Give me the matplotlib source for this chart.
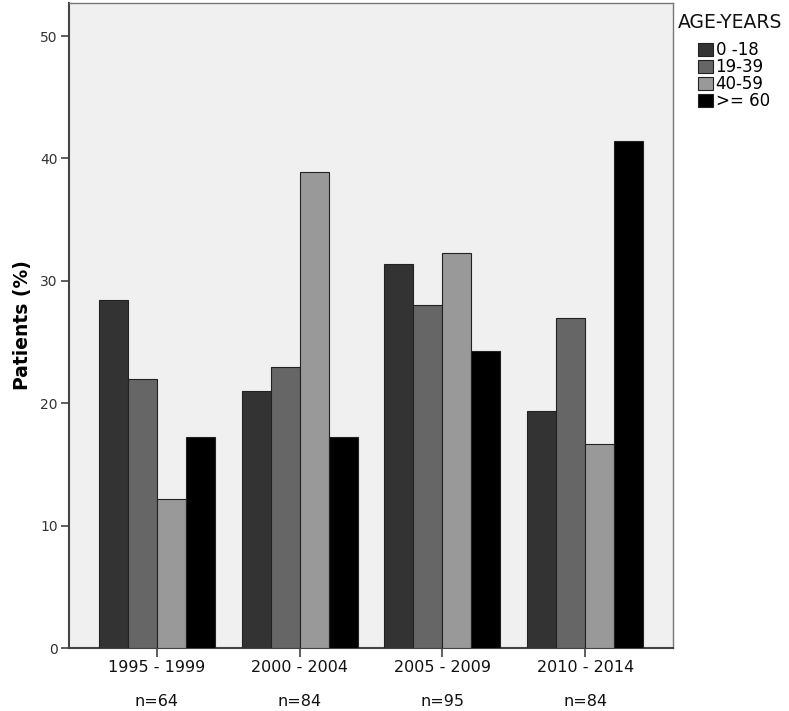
import matplotlib
matplotlib.use("Agg")
import matplotlib.pyplot as plt
import matplotlib.transforms as mtransforms
import numpy as np

periods = ["1995 - 1999", "2000 - 2004", "2005 - 2009", "2010 - 2014"]
n_labels = ["n=64", "n=84", "n=95", "n=84"]
age_groups = ["0 -18", "19-39", "40-59", ">= 60"]
age_0_18 = [28.4, 21.0, 31.4, 19.4]
age_19_39 = [22.0, 23.0, 28.0, 27.0]
age_40_59 = [12.2, 38.9, 32.3, 16.7]
age_60_plus = [17.2, 17.2, 24.3, 41.4]
series = [age_0_18, age_19_39, age_40_59, age_60_plus]
colors = ["#333333", "#666666", "#999999", "#000000"]
y_ticks = [0, 10, 20, 30, 40, 50]

plt.rcParams['font.family'] = ['DejaVu Sans']

fig = plt.figure(figsize=(7.89, 7.11), dpi=100)
ax = fig.add_axes([69/789, 1-648/711, (673-69)/789, (648-3)/711])
ax.set_facecolor("#f0f0f0")

x = np.arange(len(periods))
w = 0.203
for i, (vals, c) in enumerate(zip(series, colors)):
    ax.bar(x + (i - 1.5) * w, vals, width=w, color=c, edgecolor="#222222",
           linewidth=0.8, label=age_groups[i], zorder=3)

ax.set_xlim(-0.615, 3.615)
ax.set_ylim(0, 52.7)
ax.set_yticks(y_ticks)
ax.set_yticklabels([str(t) for t in y_ticks], fontsize=10, color="#333333")
ax.set_xticks(x)
ax.set_xticklabels(periods, fontsize=11.5, color="#111111")
ax.tick_params(axis='y', direction='out', length=6, width=1.2, color="#444444", pad=2)
ax.tick_params(axis='x', direction='out', length=6.5, width=1.2, color="#444444", pad=2)

for side in ["left", "bottom"]:
    ax.spines[side].set_color("#444444")
    ax.spines[side].set_linewidth(1.5)
for side in ["top", "right"]:
    ax.spines[side].set_color("#777777")
    ax.spines[side].set_linewidth(1.0)

ax.set_ylabel("Patients (%)", fontsize=13.5, fontweight='bold', labelpad=6)

trans = mtransforms.blended_transform_factory(ax.transData, fig.transFigure)
for xi, lab in zip(x, n_labels):
    ax.text(xi, 1 - 702/711, lab, transform=trans, ha='center', va='center',
            fontsize=11.5, color="#111111")

fig.text(678/789, 1 - 23/711, "AGE-YEARS", ha='left', va='center',
         fontsize=13.5, color="#111111")

leg = ax.legend(loc='upper left', bbox_to_anchor=(698/789, 1 - 41/711),
                bbox_transform=fig.transFigure,
                frameon=False, fontsize=12,
                handlelength=0.9, handleheight=0.85, handletextpad=0.15,
                labelspacing=-0.05, borderaxespad=0.0, borderpad=0.0)

fig.savefig("out.png", dpi=100)
